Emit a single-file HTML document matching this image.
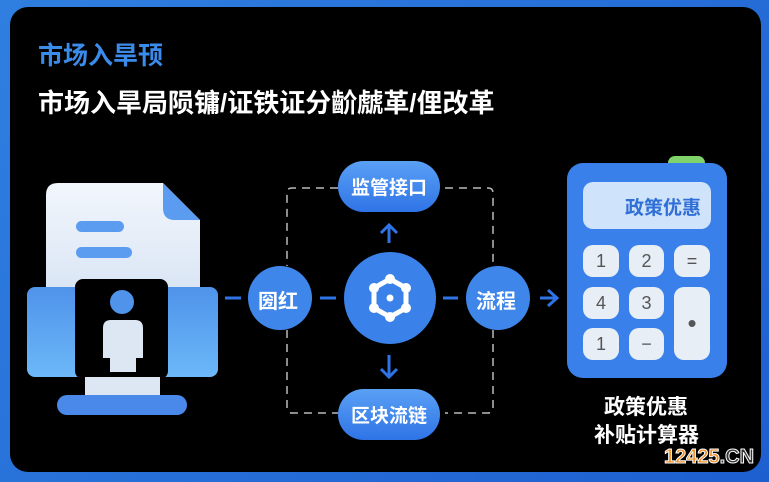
<!DOCTYPE html>
<html><head><meta charset="utf-8"><style>
body{margin:0;width:769px;height:482px;overflow:hidden;background:linear-gradient(135deg,#2f7fe0,#1e5fd0);font-family:"Liberation Sans","Noto Sans CJK SC",sans-serif;position:relative}
.a{position:absolute}
.panel{left:10px;top:7px;width:751px;height:465px;background:#000;border-radius:18px}
.t{color:#fff;font-weight:bold;white-space:nowrap}
.pill{background:linear-gradient(180deg,#5aa0f5,#2f74e6);color:#fff;font-weight:bold;display:flex;align-items:center;justify-content:center;font-size:19px}
.btn{background:#e8eef6;border-radius:10px;color:#555;font-size:18px;display:flex;align-items:center;justify-content:center}
</style></head><body>
<div class="a panel"></div>
<div class="a t" style="left:38px;top:36px;font-size:25px;color:#3b8bea">市场入旱顸</div>
<div class="a t" style="left:38px;top:83px;font-size:26px">市场入旱局陨镛/证铁证分齘虤革/俚改革</div>

<svg class="a" style="left:0;top:0" width="769" height="482">
<defs>
<linearGradient id="pg" x1="0" y1="0" x2="0" y2="1"><stop offset="0" stop-color="#f2f6fc"/><stop offset="1" stop-color="#d8e4f4"/></linearGradient>
<linearGradient id="sg" x1="0" y1="0" x2="0" y2="1"><stop offset="0" stop-color="#4f93ea"/><stop offset="1" stop-color="#6cb8f8"/></linearGradient>
</defs>
<path d="M58,183 H163 L200,220 V300 H46 V195 Q46,183 58,183Z" fill="url(#pg)"/>
<path d="M163,183 L200,220 H175 Q163,220 163,208Z" fill="#5b9bf0"/>
<rect x="76" y="221" width="48" height="11" rx="5.5" fill="#5b9bf0"/>
<rect x="76" y="247" width="56" height="11" rx="5.5" fill="#5b9bf0"/>
<rect x="27" y="287" width="60" height="90" rx="8" fill="url(#sg)"/>
<rect x="158" y="287" width="60" height="90" rx="8" fill="url(#sg)"/>
<rect x="75" y="279" width="93" height="100" rx="8" fill="#000"/>
<rect x="85" y="377" width="75" height="18" fill="#dde7f4"/>
<rect x="57" y="395" width="130" height="20" rx="10" fill="#4a88ea"/>
<circle cx="122" cy="302" r="12" fill="#4f93ea"/>
<path d="M103,328 Q103,320 111,320 H135 Q143,320 143,328 V358 H136 V372 H110 V358 H103Z" fill="#dde7f4"/>
<g stroke="#bbb" stroke-width="1.5" stroke-dasharray="8,6" fill="none">
<path d="M338,188 H292 Q287,188 287,193 V266"/>
<path d="M287,330 V408 Q287,413 292,413 H338"/>
<path d="M445,188 H488 Q493,188 493,193 V266"/>
<path d="M493,330 V408 Q493,413 488,413 H445"/>
</g>
<g stroke="#2f74e6" stroke-width="3" fill="none">
<line x1="225" y1="298" x2="241" y2="298"/><line x1="320" y1="298" x2="336" y2="298"/>
<line x1="443" y1="298" x2="458" y2="298"/>
<line x1="540" y1="298" x2="556" y2="298"/><path d="M548,290 L557,298 L548,306"/>
<line x1="389" y1="243" x2="389" y2="226"/><path d="M381,233 L389,225 L397,233"/>
<line x1="389" y1="355" x2="389" y2="376"/><path d="M381,369 L389,377 L397,369"/>
</g>
<circle cx="280" cy="298" r="32" fill="#3f86ea"/>
<circle cx="498" cy="298" r="32" fill="#3f86ea"/>
<circle cx="390" cy="298" r="46" fill="#3a82ea"/>
<g stroke="#fff" stroke-width="5" fill="none" stroke-linejoin="round">
<polygon points="390,279 406,288 406,308 390,317 374,308 374,288"/>
</g>
<g fill="#fff"><circle cx="390" cy="279" r="5"/><circle cx="406" cy="288" r="5"/><circle cx="406" cy="308" r="5"/><circle cx="390" cy="317" r="5"/><circle cx="374" cy="308" r="5"/><circle cx="374" cy="288" r="5"/><circle cx="390" cy="298" r="3.5"/></g>
<rect x="668" y="156" width="37" height="16" rx="7" fill="#7fd36a"/>
<rect x="567" y="163" width="160" height="215" rx="16" fill="#3a80ea"/>
<rect x="583" y="182" width="128" height="47" rx="10" fill="#cfe3fa"/>
</svg>
<div class="a t" style="left:258px;top:285px;font-size:20px">圀红</div>
<div class="a t" style="left:476px;top:285px;font-size:20px">流程</div>
<div class="a pill" style="left:338px;top:161px;width:102px;height:51px;border-radius:26px">监管接口</div>
<div class="a pill" style="left:338px;top:389px;width:102px;height:51px;border-radius:26px">区块流链</div>
<div class="a t" style="left:625px;top:193px;font-size:19px;color:#2f6fd6">政策优惠</div>
<div class="a btn" style="left:583px;top:245px;width:36px;height:32px">1</div>
<div class="a btn" style="left:629px;top:245px;width:35px;height:32px">2</div>
<div class="a btn" style="left:674px;top:245px;width:36px;height:32px">=</div>
<div class="a btn" style="left:583px;top:287px;width:36px;height:32px">4</div>
<div class="a btn" style="left:629px;top:287px;width:35px;height:32px">3</div>
<div class="a btn" style="left:674px;top:287px;width:36px;height:73px;font-size:26px">•</div>
<div class="a btn" style="left:583px;top:328px;width:36px;height:32px">1</div>
<div class="a btn" style="left:629px;top:328px;width:35px;height:32px">−</div>
<div class="a t" style="left:604px;top:391px;font-size:21px">政策优惠</div>
<div class="a t" style="left:594px;top:419px;font-size:21px">补贴计算器</div>
<div class="a t" style="left:664px;top:446px;font-size:20px;color:#f08a1c;-webkit-text-stroke:1px #fff">12425<span style="color:#333">.CN</span></div>
</body></html>
